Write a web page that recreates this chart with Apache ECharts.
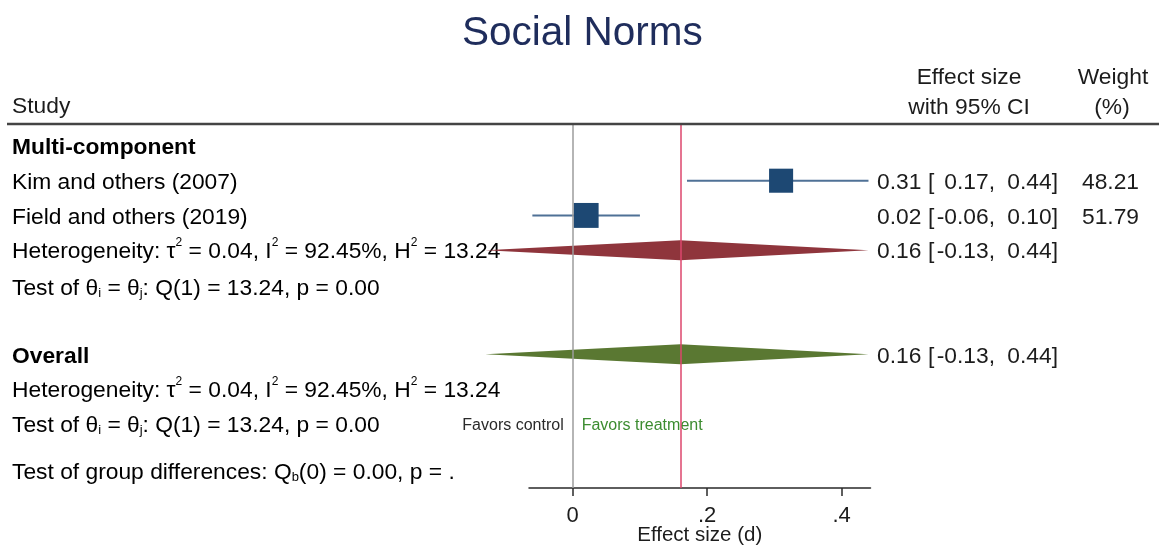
<!DOCTYPE html>
<html>
<head>
<meta charset="utf-8">
<script src="https://cdn.jsdelivr.net/npm/echarts@6/dist/echarts.min.js"></script>
<style>
  html, body { margin: 0; padding: 0; background: #ffffff; }
  #chart { width: 1161px; height: 546px; }
</style>
</head>
<body>
<div id="chart"></div>
<script>
// Individual studies: effect size (d), 95% CI and weight (%)
const studyNames = ['Kim and others (2007)', 'Field and others (2019)'];
const studyEst = [0.31, 0.02];
const studyLow = [0.17, -0.06];
const studyHigh = [0.44, 0.10];
const studyWeight = [48.21, 51.79];
const studyRow = [1, 2];

// Pooled estimates: subgroup (Multi-component) and overall
const pooledEst = [0.16, 0.16];
const pooledLow = [-0.13, -0.13];
const pooledHigh = [0.44, 0.44];
const pooledRow = [3, 6];

// Heterogeneity and test statistics
const tau2 = '0.04', iSq = '92.45%', hSq = '13.24';
const qStat = '13.24', qDf = 1, qP = '0.00';
const qbStat = '0.00', qbDf = 0, qbP = '.';

// Axis ticks
const xTicks = [0, 0.2, 0.4];
const xTickLabels = ['0', '.2', '.4'];

const FONT = '"Liberation Sans", Arial, Helvetica, sans-serif';
const TEXT = '#1c1c1c';
const FS = 22.8;
const TEXT_DY = 2; // nudge so cap height sits centred on the row

const rich = {
  n: { fontSize: FS, fontFamily: FONT, color: TEXT, lineHeight: 30 },
  b: { fontSize: FS, fontFamily: FONT, color: TEXT, fontWeight: 'bold', lineHeight: 30 },
  sup: { fontSize: 12, fontFamily: FONT, color: TEXT, verticalAlign: 'top', lineHeight: 12 },
  sub: { fontSize: 13, fontFamily: FONT, color: TEXT, verticalAlign: 'bottom', lineHeight: 13, padding: [0, 0, 4, 0] }
};

const hetText = '{n|Heterogeneity: τ}{sup|2}{n| = ' + tau2 + ', I}{sup|2}{n| = ' + iSq + ', H}{sup|2}{n| = ' + hSq + '}';
const testText = '{n|Test of θ}{sub|i}{n| = θ}{sub|j}{n|: Q(' + qDf + ') = ' + qStat + ', p = ' + qP + '}';
const groupText = '{n|Test of group differences: Q}{sub|b}{n|(' + qbDf + ') = ' + qbStat + ', p = ' + qbP + '}';

// Left-hand column rows (row index on the hidden y axis)
const labelRows = [0, studyRow[0], studyRow[1], 3, 4.06, 6, 7, 8, 9.35];
const labelTexts = [
  '{b|Multi-component}',
  '{n|' + studyNames[0] + '}',
  '{n|' + studyNames[1] + '}',
  hetText, testText,
  '{b|Overall}',
  hetText, testText, groupText
];

// Right-hand statistics columns
const statRows = studyRow.concat(pooledRow);
const statEst = studyEst.concat(pooledEst);
const statLow = studyLow.concat(pooledLow);
const statHigh = studyHigh.concat(pooledHigh);
const statWeight = studyWeight.concat([null, null]);

const chart = echarts.init(document.getElementById('chart'));

function txt(x, y, text, align, extra) {
  return Object.assign({
    type: 'text',
    style: { x: x, y: y, text: text, align: align || 'left', verticalAlign: 'middle',
             font: FS + 'px ' + FONT, fill: TEXT }
  }, extra || {});
}

const option = {
  animation: false,
  backgroundColor: '#ffffff',
  title: {
    text: 'Social Norms',
    left: 457, top: 8,
    textStyle: { fontFamily: FONT, fontSize: 40.5, fontWeight: 'normal', color: '#1f2d5c' }
  },
  grid: { left: 529, right: 290.5, top: 124, bottom: 58, containLabel: false, outerBoundsMode: 'none' },
  xAxis: {
    type: 'value', min: -0.065, max: 0.443,
    axisLine: { show: true, onZero: false, lineStyle: { color: '#2a2a2a', width: 1.5 } },
    axisTick: { show: true, customValues: xTicks, length: 8, lineStyle: { color: '#2a2a2a', width: 1.5 } },
    axisLabel: {
      customValues: xTicks, margin: 17, fontSize: 22, fontFamily: FONT, color: TEXT,
      formatter: function (v) {
        for (let i = 0; i < xTicks.length; i++) if (Math.abs(xTicks[i] - v) < 1e-9) return xTickLabels[i];
        return '';
      }
    },
    splitLine: { show: false },
    name: 'Effect size (d)', nameLocation: 'middle', nameGap: 37, nameMoveOverlap: false,
    nameTextStyle: { fontSize: 20.5, fontFamily: FONT, color: TEXT }
  },
  yAxis: { type: 'value', inverse: true, min: -0.633, max: 9.85, show: false },
  graphic: [
    { type: 'line', shape: { x1: 7, y1: 124, x2: 1159, y2: 124 }, style: { stroke: '#444444', lineWidth: 2.6 }, z: 10 },
    txt(12, 107, 'Study'),
    txt(969, 78, 'Effect size', 'center'),
    txt(969, 108, 'with 95% CI', 'center'),
    txt(1113, 78, 'Weight', 'center'),
    txt(1112, 108, '(%)', 'center')
  ],
  series: [
    {
      // reference line at zero
      type: 'custom', z: 1, silent: true,
      data: [],
      renderItem: function () { return null; },
      markLine: {
        silent: true, symbol: ['none', 'none'], label: { show: false },
        lineStyle: { color: '#9c9c9c', width: 1.5, type: 'solid' },
        data: [{ xAxis: 0 }]
      }
    },
    {
      // left-hand study/statistics labels
      type: 'custom', z: 2, silent: true,
      data: labelRows.map(function (r) { return [0, r]; }),
      renderItem: function (params, api) {
        const y = api.coord([0, api.value(1)])[1] + TEXT_DY;
        return { type: 'text', style: { x: 12, y: y, text: labelTexts[params.dataIndex], rich: rich,
                 verticalAlign: 'middle', align: 'left' } };
      }
    },
    {
      // favours labels either side of zero
      type: 'custom', z: 2, silent: true,
      data: [[0, 8]],
      renderItem: function (params, api) {
        const p = api.coord([api.value(0), api.value(1)]);
        const y = p[1] + 2;
        return { type: 'group', children: [
          { type: 'text', style: { x: p[0] - 9, y: y, text: 'Favors control', align: 'right', verticalAlign: 'middle',
            font: '16px ' + FONT, fill: '#2a2a2a' } },
          { type: 'text', style: { x: p[0] + 9, y: y, text: 'Favors treatment', align: 'left', verticalAlign: 'middle',
            font: '16px ' + FONT, fill: '#3c8c30' } }
        ] };
      }
    },
    {
      // effect size, CI and weight columns
      type: 'custom', z: 2, silent: true,
      data: statRows.map(function (r, i) { return [statEst[i], r]; }),
      renderItem: function (params, api) {
        const i = params.dataIndex;
        const y = api.coord([0, api.value(1)])[1] + TEXT_DY;
        const kids = [
          txt(877, y, statEst[i].toFixed(2)),
          txt(928, y, '['),
          txt(995, y, statLow[i].toFixed(2) + ',', 'right'),
          txt(1058, y, statHigh[i].toFixed(2) + ']', 'right')
        ];
        if (statWeight[i] != null) kids.push(txt(1082, y, statWeight[i].toFixed(2)));
        return { type: 'group', children: kids };
      }
    },
    {
      // study CIs and weighted squares
      type: 'custom', z: 3, silent: true,
      encode: { x: [0, 1, 2], y: 3 },
      data: studyEst.map(function (e, i) { return [studyLow[i], studyHigh[i], e, studyRow[i], studyWeight[i]]; }),
      renderItem: function (params, api) {
        const row = api.value(3);
        const a = api.coord([api.value(0), row]);
        const b = api.coord([api.value(1), row]);
        const c = api.coord([api.value(2), row]);
        const s = 24.5 * Math.sqrt(api.value(4) / 50);
        return { type: 'group', children: [
          { type: 'line', shape: { x1: a[0], y1: a[1], x2: b[0], y2: b[1] }, style: { stroke: '#4f7196', lineWidth: 2 } },
          { type: 'rect', shape: { x: c[0] - s / 2, y: c[1] - s / 2, width: s, height: s }, style: { fill: '#1d4873' } }
        ] };
      }
    },
    {
      // pooled-estimate diamonds
      type: 'custom', z: 4, silent: true,
      encode: { x: [0, 1, 2], y: 3 },
      data: pooledEst.map(function (e, i) { return [pooledLow[i], pooledHigh[i], e, pooledRow[i]]; }),
      renderItem: function (params, api) {
        const row = api.value(3);
        const a = api.coord([api.value(0), row]);
        const b = api.coord([api.value(1), row]);
        const c = api.coord([api.value(2), row]);
        const h = 10;
        const colors = ['#8f353c', '#5a7832'];
        return { type: 'polygon',
          shape: { points: [[a[0], a[1]], [c[0], c[1] - h], [b[0], b[1]], [c[0], c[1] + h]] },
          style: { fill: colors[params.dataIndex] } };
      }
    },
    {
      // overall effect line
      type: 'custom', z: 5, silent: true,
      data: [],
      renderItem: function () { return null; },
      markLine: {
        silent: true, symbol: ['none', 'none'], label: { show: false },
        lineStyle: { color: '#dc466c', width: 1.5, type: 'solid' },
        data: [{ xAxis: pooledEst[1] }]
      }
    }
  ]
};

chart.setOption(option);
</script>
</body>
</html>
